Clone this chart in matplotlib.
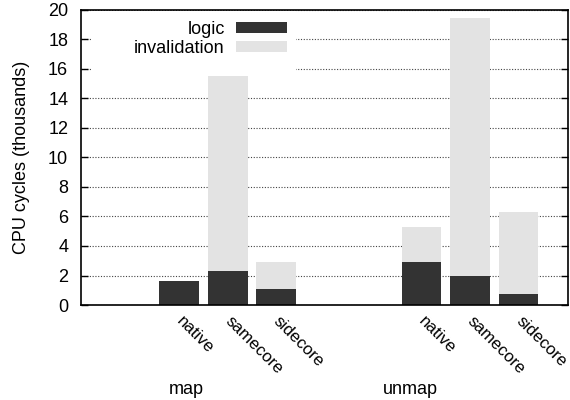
import matplotlib
matplotlib.use("Agg")
import matplotlib.pyplot as plt
import matplotlib.transforms as mtransforms
from matplotlib.patches import Rectangle

plt.rcParams['font.family'] = ['Liberation Sans', 'DejaVu Sans']

groups = ["map", "unmap"]
configs = ["native", "samecore", "sidecore"]
logic = [[1.6, 2.3, 1.1], [2.9, 2.0, 0.75]]
invalidation = [[0.05, 13.2, 1.8], [2.4, 17.45, 5.55]]

DARK = "#333333"
LIGHT = "#e3e3e3"
FS = 13

fig = plt.figure(figsize=(5.7, 4.0), dpi=100)
ax = fig.add_axes([0.1416, 0.2375, 0.8549, 0.7375])

group_start = [0, 5]
group_label_x = [0.14, 4.76]
xs, labels = [], []
for gi, g in enumerate(groups):
    for ci, c in enumerate(configs):
        x = group_start[gi] + ci
        xs.append(x)
        labels.append(c)
        ax.bar(x, logic[gi][ci], width=0.82, color=DARK, zorder=3,
               label="logic" if (gi == 0 and ci == 0) else None)
        ax.bar(x, invalidation[gi][ci], width=0.82, bottom=logic[gi][ci],
               color=LIGHT, zorder=3,
               label="invalidation" if (gi == 0 and ci == 0) else None)

ax.set_xlim(-2.03, 8.02)
ax.set_ylim(0, 20)
ax.set_yticks(range(0, 21, 2))
ax.set_xticks(xs)
ax.set_xticklabels(labels, rotation=-45, ha='left', va='center',
                   rotation_mode='anchor', fontsize=12.2)
offset = mtransforms.ScaledTranslation(-6 / 100, 0, fig.dpi_scale_trans)
for lbl in ax.get_xticklabels():
    lbl.set_transform(lbl.get_transform() + offset)
ax.tick_params(axis='x', length=0, pad=10)
ax.tick_params(axis='y', direction='in', length=5, width=1, right=True,
               labelsize=FS, pad=9)
ax.yaxis.grid(True, linestyle=(0, (1, 1.5)), color='#444444', linewidth=0.8, zorder=1)
ax.set_axisbelow(True)
for s in ax.spines.values():
    s.set_linewidth(1.2)
    s.set_zorder(5)

for gi, g in enumerate(groups):
    ax.text(group_label_x[gi], -0.285, g, transform=ax.get_xaxis_transform(),
            ha='center', va='center', fontsize=FS)

ax.set_ylabel("CPU cycles (thousands)", fontsize=FS, labelpad=13)

ax.add_patch(Rectangle((0.023, 0.79), 0.418, 0.205, transform=ax.transAxes,
                       facecolor='white', edgecolor='none', zorder=2))
ax.legend(loc='upper left', bbox_to_anchor=(0.08, 1.012), frameon=False,
          markerfirst=False, fontsize=FS, handlelength=2.85, handleheight=0.55,
          handletextpad=0.6, labelspacing=0.12, borderpad=0.3)

fig.savefig("out.png", dpi=100)
